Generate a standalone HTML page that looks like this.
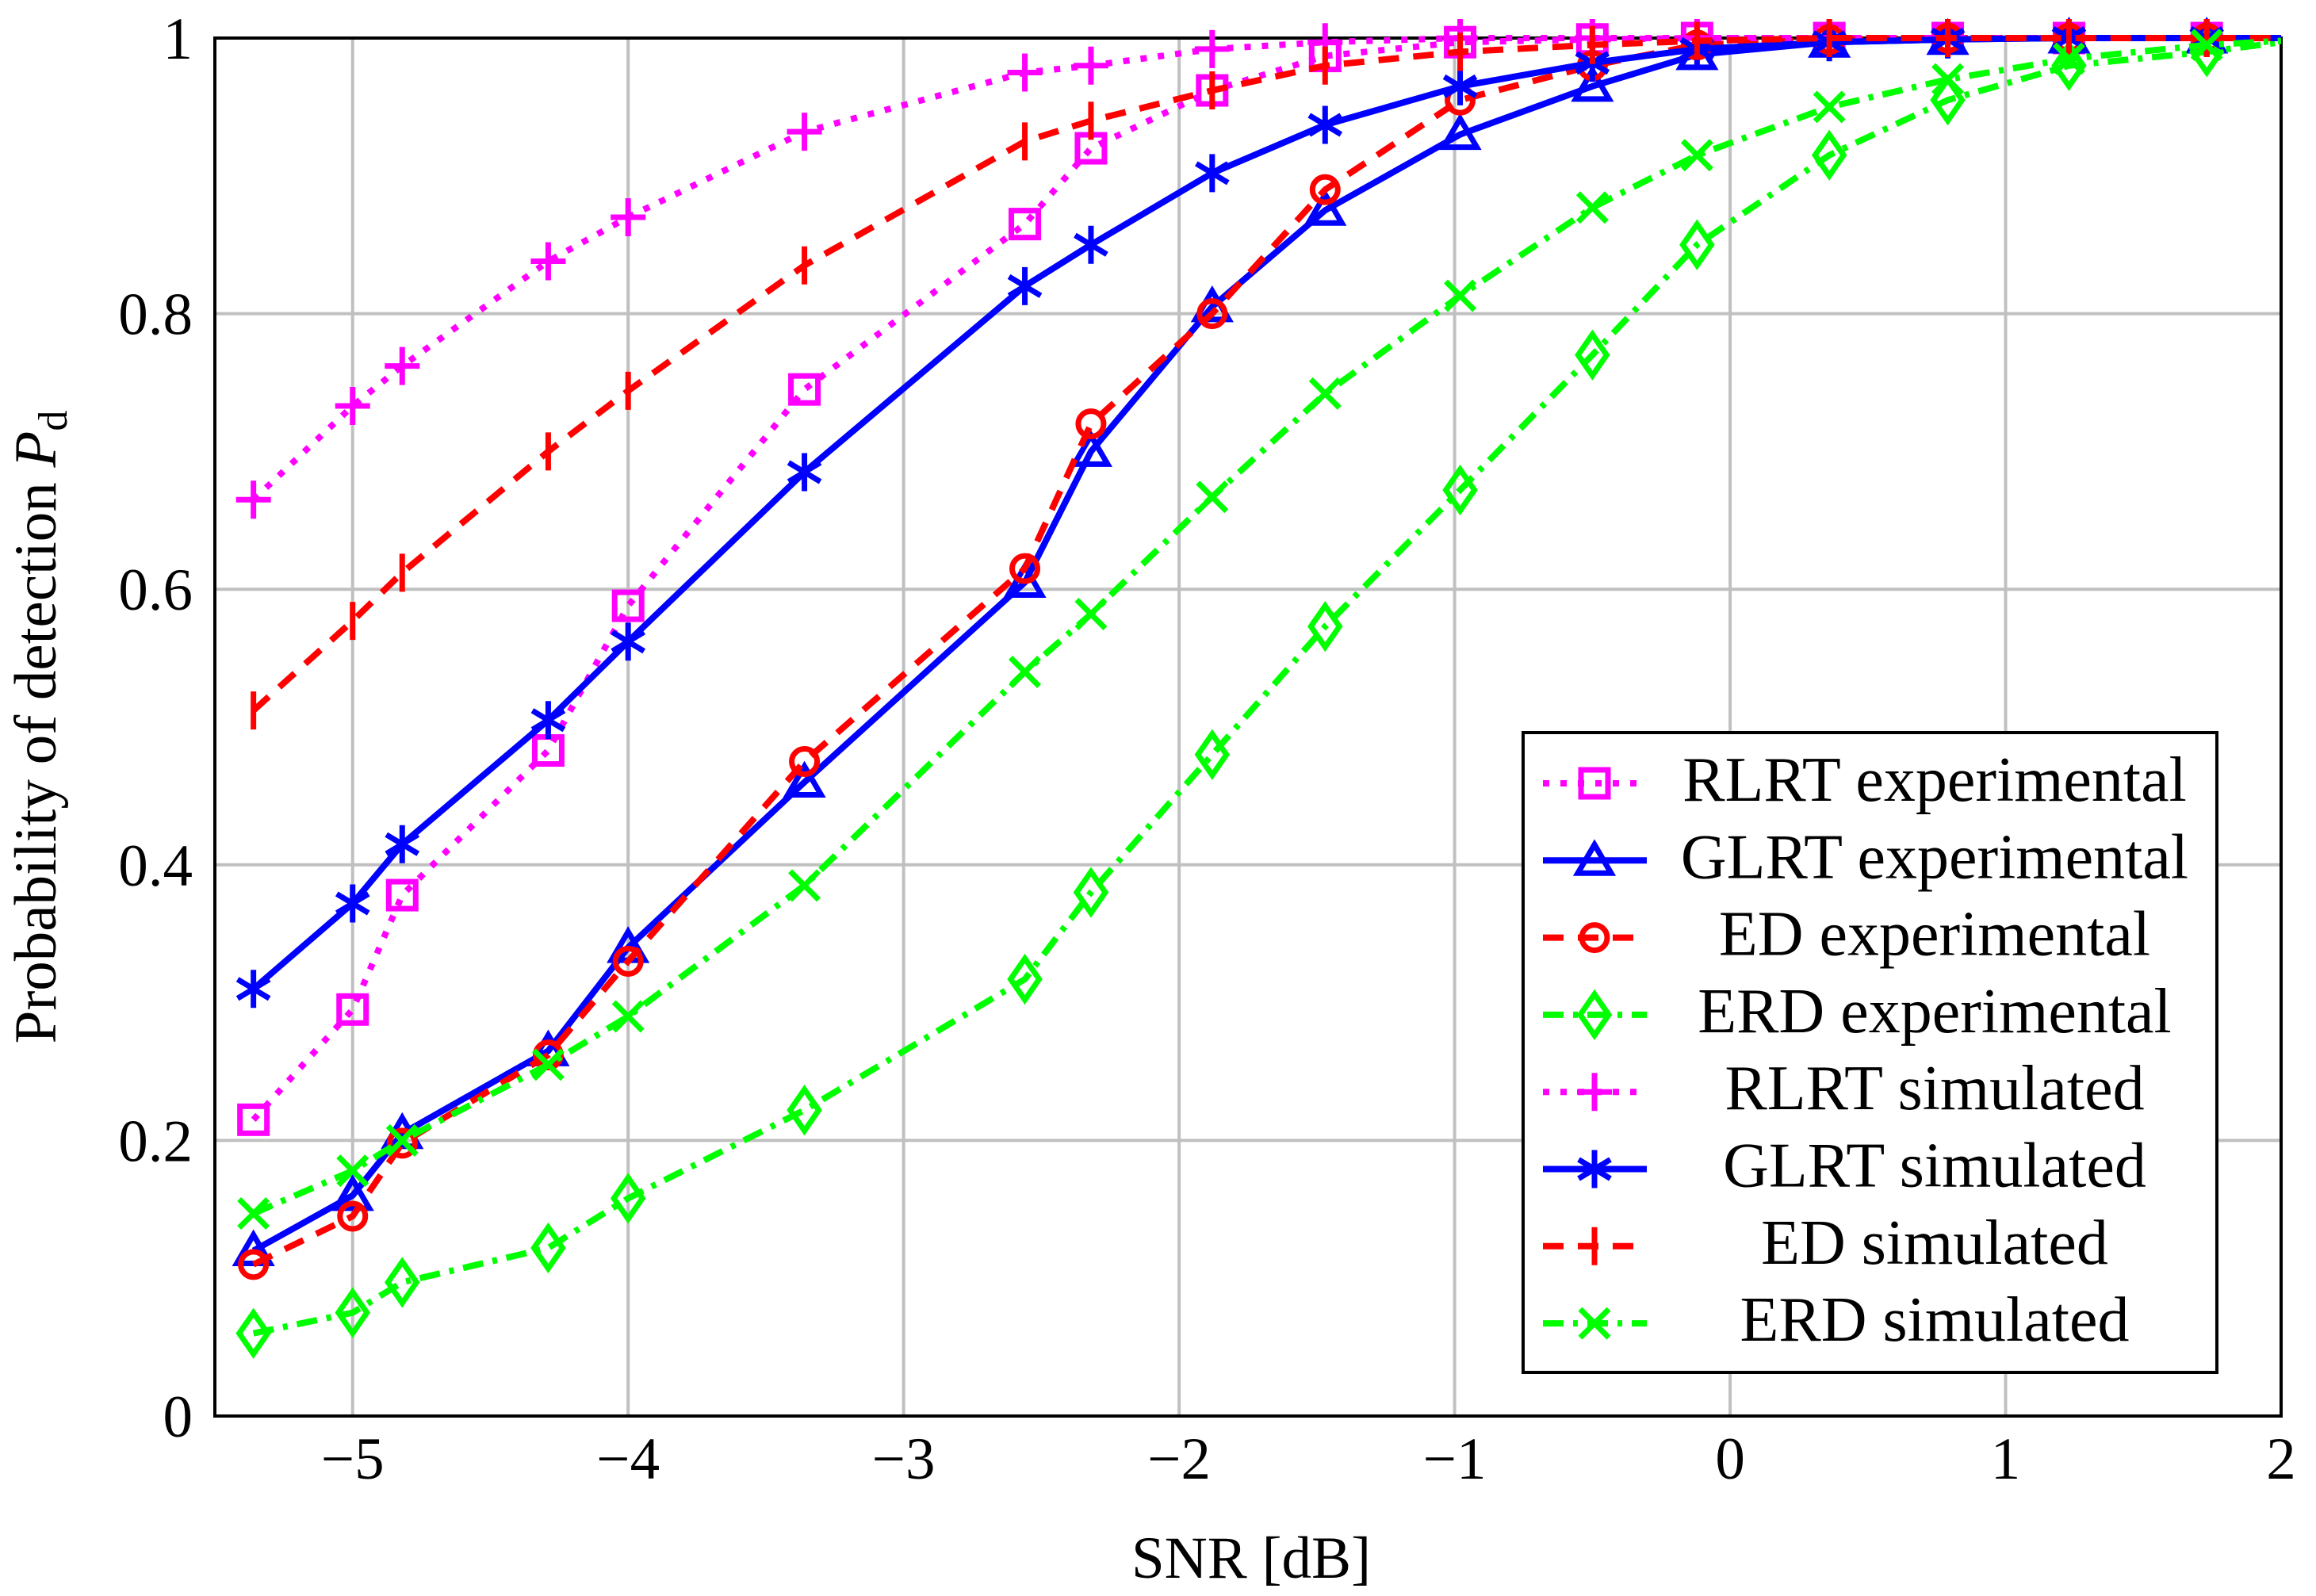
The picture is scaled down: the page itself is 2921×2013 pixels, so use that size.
<!DOCTYPE html>
<html><head><meta charset="utf-8"><style>
html,body{margin:0;padding:0;background:#fff}
svg{display:block}
text{font-family:"Liberation Serif",serif;fill:#000}
</style></head><body>
<svg id="chart" width="2921" height="2013" viewBox="0 0 2921 2013" xmlns="http://www.w3.org/2000/svg">
<g id="grid"></g>
<rect x="271" y="48" width="2606" height="1738" fill="none" stroke="#000" stroke-width="4"/>
<g id="series"></g>
<g id="ticks"></g>
<text x="1578" y="1990" font-size="75" text-anchor="middle">SNR [dB]</text>
<text transform="translate(70,917) rotate(-90)" font-size="75" text-anchor="middle">Probability of detection <tspan font-style="italic">P</tspan><tspan font-size="52" dy="14">d</tspan></text>
<g id="legend"></g>
</svg>
<script>
const snr = [-5.36,-5,-4.82,-4.29,-4,-3.36,-2.56,-2.32,-1.88,-1.47,-0.98,-0.5,-0.12,0.36,0.79,1.23,1.73,2];
const rlrtExp = [0.215,0.295,0.378,0.483,0.588,0.745,0.865,0.92,0.962,0.987,0.997,0.999,1,1,1,1,1,1];
const glrtExp = [0.12,0.16,0.205,0.265,0.34,0.46,0.605,0.70,0.805,0.875,0.93,0.965,0.988,0.997,0.999,1,1,1];
const edExp = [0.11,0.145,0.198,0.262,0.33,0.475,0.615,0.72,0.80,0.89,0.955,0.98,0.995,0.999,1,1,1,1];
const erdExp = [0.06,0.075,0.097,0.122,0.158,0.222,0.317,0.38,0.48,0.573,0.672,0.77,0.85,0.915,0.955,0.98,0.99,0.997];
const rlrtSim = [0.665,0.733,0.762,0.838,0.87,0.932,0.975,0.98,0.992,0.997,1,1,1,1,1,1,1,1];
const glrtSim = [0.31,0.372,0.415,0.505,0.562,0.685,0.82,0.85,0.902,0.937,0.965,0.982,0.992,0.997,0.999,1,1,1];
const edSim = [0.512,0.577,0.612,0.70,0.744,0.835,0.925,0.94,0.962,0.98,0.99,0.995,0.998,1,1,1,1,1];
const erdSim = [0.147,0.178,0.2,0.255,0.29,0.385,0.54,0.582,0.667,0.742,0.813,0.877,0.915,0.95,0.97,0.985,0.995,0.998];
const xTicks = [-5,-4,-3,-2,-1,0,1,2];
const yTicks = [0,0.2,0.4,0.6,0.8,1];
const yTickLabels = ["0","0.2","0.4","0.6","0.8","1"];
const seriesNames = ["RLRT experimental","GLRT experimental","ED experimental","ERD experimental","RLRT simulated","GLRT simulated","ED simulated","ERD simulated"];

const NS="http://www.w3.org/2000/svg";
const X0=271,X1=2877,Y0=1786,Y1=48,XMIN=-5.5,XMAX=2;
function sx(v){return X0+(v-XMIN)/(XMAX-XMIN)*(X1-X0);}
function sy(v){return Y0-v*(Y0-Y1);}
function mk(tag,attrs,parent){const e=document.createElementNS(NS,tag);for(const k in attrs)e.setAttribute(k,attrs[k]);parent.appendChild(e);return e;}

const grid=document.getElementById('grid'),ticks=document.getElementById('ticks');
xTicks.forEach(t=>{
  const l=mk('line',{x1:sx(t),x2:sx(t),y1:Y1,y2:Y0,stroke:'#c0c0c0','stroke-width':4},grid);
  
  
  const tx=mk('text',{x:sx(t),y:1865,'font-size':75,'text-anchor':'middle'},ticks);
  tx.textContent=(t<0?'\u2212'+(-t):String(t));
  
  
});
yTicks.forEach((t,i)=>{
  const l=mk('line',{x1:X0,x2:X1,y1:sy(t),y2:sy(t),stroke:'#c0c0c0','stroke-width':4},grid);
  
  
  const tx=mk('text',{x:243,y:sy(t)+26,'font-size':75,'text-anchor':'end'},ticks);
  tx.textContent=yTickLabels[i];
  
  
});

const MAG='#ff00ff',BLU='#0000ff',RED='#ff0000',GRN='#00ff00';
const DOT='8 14',DASH='26 18',DASHDOT='26 12 6 12';
const styles=[
 {c:MAG,d:DOT,m:'square',data:rlrtExp},
 {c:BLU,d:'',m:'triangle',data:glrtExp},
 {c:RED,d:DASH,m:'circle',data:edExp},
 {c:GRN,d:DASHDOT,m:'diamond',data:erdExp},
 {c:MAG,d:DOT,m:'plus',data:rlrtSim},
 {c:BLU,d:'',m:'asterisk',data:glrtSim},
 {c:RED,d:DASH,m:'vbar',data:edSim},
 {c:GRN,d:DASHDOT,m:'cross',data:erdSim}
];
function marker(type,x,y,c,g){
  const sw=7,r=20;let e;
  if(type==='square')e=mk('rect',{x:x-r+3,y:y-r+3,width:2*r-6,height:2*r-6,fill:'none',stroke:c,'stroke-width':sw},g);
  else if(type==='circle')e=mk('circle',{cx:x,cy:y,r:r-4,fill:'none',stroke:c,'stroke-width':sw},g);
  else if(type==='triangle')e=mk('polygon',{points:`${x},${y-20} ${x+21},${y+16} ${x-21},${y+16}`,fill:'none',stroke:c,'stroke-width':sw},g);
  else if(type==='diamond')e=mk('polygon',{points:`${x},${y-26} ${x+18},${y} ${x},${y+26} ${x-18},${y}`,fill:'none',stroke:c,'stroke-width':sw},g);
  else if(type==='plus')e=mk('path',{d:`M${x-22},${y}H${x+22}M${x},${y-24}V${y+24}`,stroke:c,'stroke-width':sw,fill:'none'},g);
  else if(type==='vbar')e=mk('path',{d:`M${x},${y-24}V${y+24}`,stroke:c,'stroke-width':sw,fill:'none'},g);
  else if(type==='cross')e=mk('path',{d:`M${x-18},${y-18}L${x+18},${y+18}M${x-18},${y+18}L${x+18},${y-18}`,stroke:c,'stroke-width':sw,fill:'none'},g);
  else if(type==='asterisk')e=mk('path',{d:`M${x},${y-24}V${y+24}M${x-20},${y-12}L${x+20},${y+12}M${x-20},${y+12}L${x+20},${y-12}`,stroke:c,'stroke-width':sw,fill:'none'},g);
  return e;
}
const sg=document.getElementById('series');
styles.forEach((s,i)=>{
  const g=mk('g',{},sg);
  
  
  const pts=s.data.map((v,j)=>sx(snr[j])+','+sy(v)).join(' ');
  const attrs={points:pts,fill:'none',stroke:s.c,'stroke-width':8,'stroke-linejoin':'round'};
  if(s.d)attrs['stroke-dasharray']=s.d;
  const pl=mk('polyline',attrs,g);
  
  
  s.data.forEach((v,j)=>{
    if(snr[j]>=XMAX)return;
    const m=marker(s.m,sx(snr[j]),sy(v),s.c,g);
    
    
  });
});

const lg=document.getElementById('legend');
const box=mk('rect',{x:1921,y:924,width:875,height:807,fill:'#fff',stroke:'#000','stroke-width':4},lg);


styles.forEach((s,i)=>{
  const y=988+i*97.3;
  const g=mk('g',{},lg);
  
  
  const a={x1:1946,x2:2077,y1:y,y2:y,stroke:s.c,'stroke-width':8};
  if(s.d)a['stroke-dasharray']=s.d;
  mk('line',a,g);
  marker(s.m,2011,y,s.c,g);
  const t=mk('text',{x:2440,y:y+22,'font-size':80,'text-anchor':'middle'},g);
  t.textContent=seriesNames[i];
});
</script>
</body></html>
